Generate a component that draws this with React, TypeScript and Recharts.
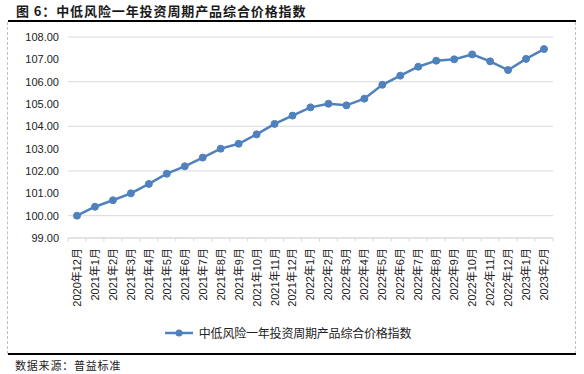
import React from "react";
import { LineChart, Line, XAxis, YAxis, CartesianGrid, Legend } from "recharts";

const months = [
  "2020年12月", "2021年1月", "2021年2月", "2021年3月", "2021年4月", "2021年5月",
  "2021年6月", "2021年7月", "2021年8月", "2021年9月", "2021年10月", "2021年11月",
  "2021年12月", "2022年1月", "2022年2月", "2022年3月", "2022年4月", "2022年5月",
  "2022年6月", "2022年7月", "2022年8月", "2022年9月", "2022年10月", "2022年11月",
  "2022年12月", "2023年1月", "2023年2月",
];

const indexValues = [
  100.0, 100.4, 100.69, 101.0, 101.42, 101.88, 102.21, 102.6, 103.0, 103.22,
  103.64, 104.11, 104.48, 104.85, 105.01, 104.94, 105.24, 105.86, 106.27, 106.67,
  106.94, 107.0, 107.22, 106.91, 106.52, 107.02, 107.46,
];

const yTicks = [99, 100, 101, 102, 103, 104, 105, 106, 107, 108];

const SERIES = "中低风险一年投资周期产品综合价格指数";
const TITLE = "图 6：中低风险一年投资周期产品综合价格指数";
const SOURCE = "数据来源：普益标准";

const BLUE = "#4f81bd";
const GRID = "#d9d9d9";
const HALF_STEP = 9;

const data = months.map((m, i) => ({ month: m, value: indexValues[i] }));

const XTick = (props: any) => {
  const { x, y, payload, index } = props;
  const axisY = y - 10;
  return (
    <g>
      <line x1={x - HALF_STEP} x2={x - HALF_STEP} y1={axisY} y2={axisY + 3.5} stroke={GRID} />
      {index === months.length - 1 && (
        <line x1={x + HALF_STEP} x2={x + HALF_STEP} y1={axisY} y2={axisY + 3.5} stroke={GRID} />
      )}
      <text
        x={x}
        y={y}
        dy="0.36em"
        textAnchor="end"
        transform={`rotate(-90 ${x} ${y})`}
        fontSize={11}
        fill="#222"
        fontFamily="'Liberation Sans', 'Noto Sans CJK SC', sans-serif"
      >
        {payload.value}
      </text>
    </g>
  );
};

const renderLegend = () => (
  <div style={{ display: "flex", justifyContent: "center", alignItems: "center" }}>
    <svg width={28} height={10}>
      <line x1={0} x2={28} y1={5} y2={5} stroke={BLUE} strokeWidth={2.5} />
      <circle cx={14} cy={5} r={3.5} fill={BLUE} />
    </svg>
    <span
      style={{
        marginLeft: 6,
        fontSize: 12,
        color: "#222",
        fontFamily: "'Noto Sans CJK SC', sans-serif",
        letterSpacing: -0.2,
      }}
    >
      {SERIES}
    </span>
  </div>
);

export default function App() {
  return (
    <div style={{ position: "absolute", left: 0, top: 0, width: 584, height: 374, background: "#fff" }}>
      <div
        style={{
          position: "absolute",
          left: 16,
          top: 2,
          fontSize: 13,
          fontWeight: 700,
          lineHeight: "17px",
          letterSpacing: 0.9,
          color: "#1a1a1a",
          fontFamily: "'Noto Sans CJK SC', sans-serif",
          whiteSpace: "nowrap",
        }}
      >
        {TITLE}
      </div>
      <div style={{ position: "absolute", left: 8, top: 20, width: 568, height: 1.5, background: "#000" }} />
      <div style={{ position: "absolute", left: 7, top: 22, height: 332, borderLeft: "1px dashed #bfbfbf" }} />
      <div style={{ position: "absolute", left: 575, top: 22, height: 332, borderLeft: "1px dashed #bfbfbf" }} />
      <div style={{ position: "absolute", left: 8, top: 353, width: 568, height: 1.5, background: "#000" }} />
      <div
        style={{
          position: "absolute",
          left: 15,
          top: 357,
          fontSize: 11,
          lineHeight: "16px",
          letterSpacing: 0.8,
          color: "#222",
          fontFamily: "'Noto Sans CJK SC', sans-serif",
          whiteSpace: "nowrap",
        }}
      >
        {SOURCE}
      </div>
      <LineChart
        width={584}
        height={374}
        data={data}
        margin={{ top: 37, right: 31, left: 0, bottom: 56 }}
        style={{ position: "absolute", left: 0, top: 0 }}
      >
        <CartesianGrid vertical={false} stroke={GRID} />
        <XAxis
          dataKey="month"
          interval={0}
          height={80}
          padding={{ left: HALF_STEP, right: HALF_STEP }}
          stroke={GRID}
          tickLine={false}
          tickSize={0}
          tickMargin={10}
          tick={<XTick />}
        />
        <YAxis
          domain={[99, 108]}
          ticks={yTicks}
          width={68}
          axisLine={false}
          tickLine={false}
          tickSize={0}
          tickMargin={9}
          tickFormatter={(v: number) => v.toFixed(2)}
          tick={{ fontSize: 11, fill: "#222", fontFamily: "'Liberation Sans', sans-serif" }}
        />
        <Legend
          verticalAlign="middle"
          align="center"
          content={renderLegend}
          wrapperStyle={{ left: -4, top: 324, width: 584, height: 18 }}
        />
        <Line
          type="linear"
          dataKey="value"
          name={SERIES}
          stroke={BLUE}
          strokeWidth={2.5}
          dot={{ r: 3.5, fill: BLUE, stroke: BLUE, strokeWidth: 1 }}
          isAnimationActive={false}
        />
      </LineChart>
    </div>
  );
}
